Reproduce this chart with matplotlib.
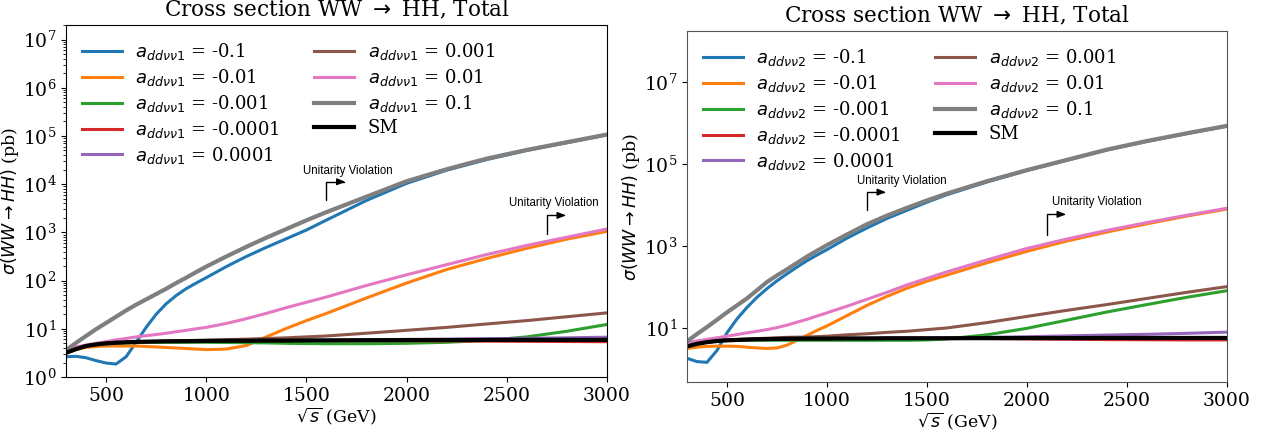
import matplotlib
matplotlib.use("Agg")
import matplotlib.pyplot as plt
from matplotlib.ticker import FixedLocator, NullLocator

# centre-of-mass energies (GeV)
sqrt_s = [300, 350, 400, 450, 500, 550, 600, 650, 700, 750, 800, 850, 900,
          950, 1000, 1100, 1200, 1300, 1400, 1500, 1600, 1800, 2000, 2200,
          2400, 2600, 2800, 3000]

coupling_values = ["-0.1", "-0.01", "-0.001", "-0.0001", "0.0001", "0.001",
                   "0.01", "0.1"]

# --- a_ddvv1 scan: cross sections in pb ---
xs1_m0p1 = [2.63, 2.69, 2.51, 2.19, 1.95, 1.86, 2.63, 5.25, 10.7, 20, 33, 49,
            68, 89, 115, 195, 316, 490, 740, 1120, 1800, 4600, 10400, 19500,
            32400, 50100, 72400, 105000]
xs1_m0p01 = [3.16, 3.7, 4.1, 4.3, 4.4, 4.4, 4.4, 4.4, 4.3, 4.2, 4.1, 4.0, 3.9,
             3.8, 3.7, 3.8, 4.5, 6.8, 10.2, 14.8, 20.9, 43.7, 89, 170, 288,
             468, 724, 1050]
xs1_m0p001 = [3.16, 3.8, 4.4, 4.7, 4.9, 5.0, 5.1, 5.2, 5.25, 5.25, 5.25, 5.25,
              5.25, 5.25, 5.25, 5.2, 5.15, 5.1, 5.0, 4.95, 4.9, 4.9, 5.0, 5.25,
              5.75, 6.8, 8.9, 12.3]
xs1_m0p0001 = [3.16, 3.8, 4.4, 4.75, 5.0, 5.15, 5.25, 5.35, 5.4, 5.45, 5.5,
               5.52, 5.55, 5.57, 5.6, 5.65, 5.65, 5.7, 5.7, 5.75, 5.7, 5.7,
               5.65, 5.6, 5.55, 5.5, 5.45, 5.4]
xs1_p0p0001 = [3.16, 3.8, 4.4, 4.75, 5.0, 5.15, 5.25, 5.35, 5.4, 5.45, 5.5,
               5.52, 5.55, 5.57, 5.6, 5.65, 5.65, 5.7, 5.7, 5.75, 5.8, 5.9,
               6.0, 6.1, 6.2, 6.35, 6.5, 6.7]
xs1_p0p001 = [3.16, 3.8, 4.4, 4.7, 4.9, 5.1, 5.25, 5.4, 5.45, 5.5, 5.55, 5.62,
              5.7, 5.75, 5.8, 5.95, 6.1, 6.3, 6.5, 6.8, 7.1, 8.1, 9.3, 10.7,
              12.6, 14.8, 17.8, 21.4]
xs1_p0p01 = [3.6, 4.2, 4.6, 5.0, 5.4, 5.9, 6.3, 6.8, 7.2, 7.6, 8.1, 8.7, 9.3,
             10.0, 10.7, 12.9, 16.2, 20.9, 27.5, 35.5, 45.7, 79.4, 132, 214,
             347, 537, 794, 1175]
xs1_p0p1 = [3.6, 5.1, 7.1, 9.8, 13.2, 17.8, 24, 31.6, 40.7, 52.5, 67.6, 89,
            115, 150, 195, 316, 501, 776, 1175, 1778, 2630, 5500, 11500, 20400,
            33900, 51300, 74100, 107000]
xs1_sm = [3.16, 3.8, 4.4, 4.75, 5.0, 5.15, 5.25, 5.35, 5.4, 5.45, 5.5, 5.52,
          5.55, 5.57, 5.6, 5.65, 5.65, 5.7, 5.7, 5.75, 5.75, 5.8, 5.85, 5.85,
          5.9, 5.9, 5.9, 5.9]

# --- a_ddvv2 scan: cross sections in pb ---
xs2_m0p1 = [1.82, 1.51, 1.45, 2.82, 7.6, 16.6, 31.6, 56, 91, 141, 209, 305,
            437, 600, 813, 1550, 2750, 4680, 7410, 11700, 17800, 36300, 69200,
            123000, 219000, 355000, 550000, 832000]
xs2_m0p01 = [3.16, 3.4, 3.55, 3.6, 3.6, 3.55, 3.4, 3.25, 3.16, 3.25, 3.8, 5.0,
             6.6, 8.7, 11.2, 20, 35.5, 59, 93, 138, 195, 389, 741, 1320, 2190,
             3470, 5370, 7940]
xs2_m0p001 = [3.55, 4.1, 4.5, 4.75, 4.9, 4.95, 5.0, 5.0, 5.0, 5.0, 5.0, 5.0,
              5.0, 5.0, 5.0, 5.0, 5.0, 5.0, 5.0, 5.1, 5.4, 6.8, 9.8, 15.5,
              24.5, 37.2, 56, 81]
xs2_m0p0001 = [3.55, 4.1, 4.5, 4.8, 5.0, 5.1, 5.2, 5.3, 5.35, 5.4, 5.45, 5.47,
               5.5, 5.5, 5.5, 5.55, 5.55, 5.6, 5.6, 5.6, 5.6, 5.5, 5.4, 5.3,
               5.2, 5.15, 5.1, 5.1]
xs2_p0p0001 = [3.55, 4.1, 4.5, 4.8, 5.0, 5.1, 5.2, 5.3, 5.35, 5.4, 5.45, 5.47,
               5.5, 5.5, 5.5, 5.55, 5.55, 5.6, 5.6, 5.65, 5.7, 5.9, 6.1, 6.4,
               6.7, 7.0, 7.4, 7.9]
xs2_p0p001 = [3.55, 4.1, 4.5, 4.8, 5.0, 5.2, 5.4, 5.5, 5.6, 5.75, 5.9, 5.95,
              6.0, 6.15, 6.3, 6.8, 7.2, 7.8, 8.3, 9.1, 10.0, 13.5, 19.1, 26.9,
              37.2, 52.5, 74, 102]
xs2_p0p01 = [4.4, 4.8, 5.25, 5.75, 6.3, 6.9, 7.6, 8.3, 9.1, 10.2, 11.7, 13.8,
             16.2, 19.5, 23.4, 33.9, 50, 74, 112, 162, 234, 457, 871, 1480,
             2400, 3720, 5620, 8320]
xs2_p0p1 = [4.7, 7.1, 10.5, 15.8, 24, 35.5, 52.5, 83, 132, 191, 269, 385, 550,
            760, 1050, 1900, 3390, 5500, 8500, 12900, 19000, 38000, 70800,
            126000, 224000, 363000, 562000, 851000]
xs2_sm = [3.55, 4.1, 4.5, 4.8, 5.0, 5.1, 5.2, 5.3, 5.35, 5.4, 5.45, 5.47, 5.5,
          5.5, 5.5, 5.55, 5.55, 5.6, 5.6, 5.6, 5.6, 5.65, 5.65, 5.65, 5.7,
          5.7, 5.7, 5.7]

# y ticks of the a_ddvv2 panel (every second decade)
yticks_right = [1e1, 1e3, 1e5, 1e7]

# unitarity-violation markers:
# (onset sqrt_s, sigma at arrow foot, sigma at arrow top, label x, label y)
uv_left = [(1600, 4.7e3, 1.12e4, 1483, 1.86e4),
           (2700, 9.3e2, 2.25e3, 2511, 3.98e3)]
uv_right = [(1200, 7.6e3, 2.05e4, 1150, 3.9e4),
            (2100, 1.86e3, 5.9e3, 2125, 1.15e4)]

colors = ["tab:blue", "tab:orange", "tab:green", "tab:red", "tab:purple",
          "tab:brown", "tab:pink", "tab:gray"]

plt.rcParams["font.family"] = "DejaVu Serif"
plt.rcParams["mathtext.fontset"] = "dejavusans"

fig = plt.figure(figsize=(12.71, 4.34), dpi=100)
ax1 = fig.add_axes([0.0519, 0.1313, 0.4257, 0.8111])
ax2 = fig.add_axes([0.5405, 0.1198, 0.4249, 0.8088])


def draw_panel(ax, series, sm, tag, ylim, uv_marks, spine_color):
    for val, ys, col in zip(coupling_values, series, colors):
        lw = 3.0 if col == "tab:gray" else 2.2
        ax.plot(sqrt_s, ys, color=col, lw=lw,
                label=r"$a_{dd\nu\nu %s}$ = %s" % (tag, val))
    ax.plot(sqrt_s, sm, color="black", lw=3.0, label="SM")
    ax.set_yscale("log")
    ax.set_xlim(300, 3000)
    ax.set_ylim(*ylim)
    ax.set_title(r"Cross section WW $\rightarrow$ HH, Total", fontsize=15.5)
    ax.set_xlabel(r"$\sqrt{s}$ (GeV)", fontsize=12.5, labelpad=1)
    ax.set_ylabel(r"$\sigma(WW \rightarrow HH)$ (pb)", fontsize=12.5,
                  labelpad=1)
    ax.tick_params(labelsize=13.5)
    for sp in ax.spines.values():
        sp.set_color(spine_color)
    ax.legend(loc="upper left", ncol=2, frameon=False, fontsize=13,
              handlelength=2.2, handletextpad=0.75, columnspacing=1.9,
              labelspacing=0.27, borderaxespad=0.5)
    for x0, y0, y1, tx, ty in uv_marks:
        ax.annotate("", xy=(x0 + 95, y1), xytext=(x0, y0),
                    arrowprops=dict(arrowstyle="-|>,head_length=0.5,head_width=0.2",
                                    color="black", lw=1.0, shrinkA=0, shrinkB=0,
                                    connectionstyle="angle,angleA=90,angleB=0,rad=0"))
        ax.text(tx, ty, "Unitarity Violation", ha="left", va="center",
                fontsize=8.3, family="Liberation Sans")


draw_panel(ax1, [xs1_m0p1, xs1_m0p01, xs1_m0p001, xs1_m0p0001, xs1_p0p0001,
                 xs1_p0p001, xs1_p0p01, xs1_p0p1], xs1_sm, "1",
           (1.0, 2.0e7), uv_left, "black")
draw_panel(ax2, [xs2_m0p1, xs2_m0p01, xs2_m0p001, xs2_m0p0001, xs2_p0p0001,
                 xs2_p0p001, xs2_p0p01, xs2_p0p1], xs2_sm, "2",
           (0.48, 1.75e8), uv_right, "#555555")
ax2.yaxis.set_major_locator(FixedLocator(yticks_right))
ax2.yaxis.set_minor_locator(NullLocator())

fig.savefig("out.png", dpi=100)
